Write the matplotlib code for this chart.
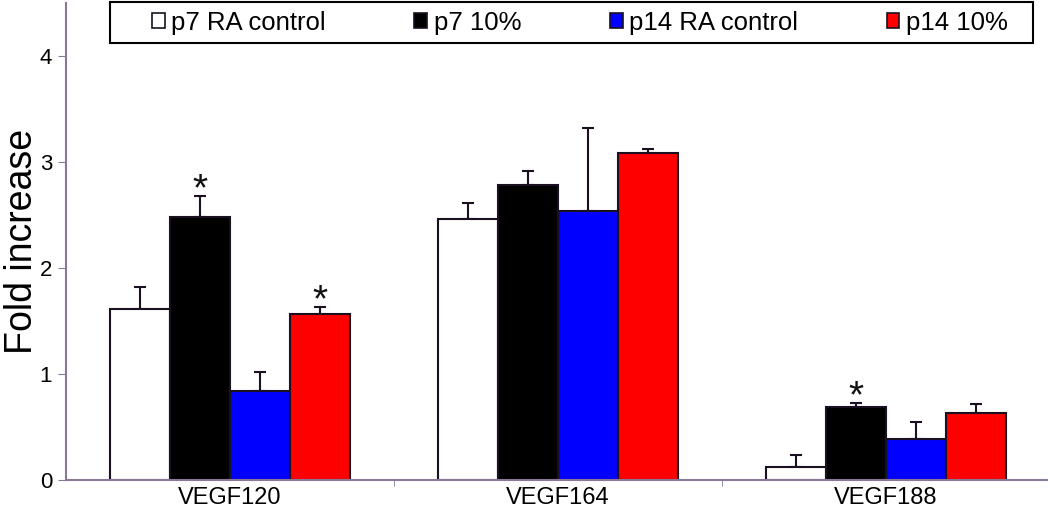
import numpy as np
import matplotlib
matplotlib.use('Agg')
import matplotlib.pyplot as plt
from matplotlib.patches import Patch, Rectangle

plt.rcParams['font.family'] = ['Liberation Sans', 'DejaVu Sans']

genes = ['VEGF120', 'VEGF164', 'VEGF188']
series = ['p7 RA control', 'p7 10%', 'p14 RA control', 'p14 10%']
colors = ['white', 'black', '#0000ff', '#ff0000']

# mean fold increase per series (rows) and gene (columns)
means = [
    [1.61, 2.46, 0.12],
    [2.48, 2.78, 0.69],
    [0.84, 2.54, 0.39],
    [1.57, 3.08, 0.63],
]
errs = [
    [0.21, 0.15, 0.12],
    [0.20, 0.13, 0.04],
    [0.18, 0.78, 0.16],
    [0.06, 0.04, 0.09],
]
# (series index, gene index) marked significant
stars = [(1, 0), (3, 0), (1, 2)]

axcol = '#8a7896'
edge = '#1a1020'

fig = plt.figure(figsize=(10.5, 5.13), dpi=100)
ax = fig.add_axes([0.0629, 0.0643, 0.934, 0.930])

x = np.arange(len(genes))
w = 0.183
for i in range(len(series)):
    pos = x + (i - 1.5) * w
    ax.bar(pos, means[i], w, color=colors[i], edgecolor=edge, linewidth=1.5, zorder=2)
    ax.errorbar(pos, means[i], yerr=[np.zeros(len(genes)), errs[i]], fmt='none',
                ecolor=edge, elinewidth=1.5, capsize=4, capthick=1.5, zorder=1)

for si, gi in stars:
    top = means[si][gi] + errs[si][gi]
    ax.text(x[gi] + (si - 1.5) * w, top - 0.04, '*', ha='center', va='baseline',
            fontsize=28, color='#111111')

ax.set_xlim(-0.5, 2.49)
ax.set_ylim(0, 4.5)
ax.set_yticks([0, 1, 2, 3, 4])
ax.set_xticks(x)
ax.set_xticklabels(genes, fontsize=17)
ax.set_xticks([0.5, 1.5], minor=True)
ax.tick_params(axis='x', which='major', length=0, pad=5)
ax.tick_params(axis='x', which='minor', length=4, color=axcol, direction='out')
ax.tick_params(axis='y', length=6, color=axcol, labelsize=16, pad=4)

for s in ['top', 'right']:
    ax.spines[s].set_visible(False)
for s in ['left', 'bottom']:
    ax.spines[s].set_color(axcol)
    ax.spines[s].set_linewidth(1.5)

ax.set_ylabel('Fold increase', fontsize=27)
ax.yaxis.set_label_coords(-0.027, 0.5)

# legend frame and entries
fig.patches.append(Rectangle((0.1048, 0.9162), 0.879, 0.0799, transform=fig.transFigure,
                             facecolor='white', edgecolor='black', linewidth=1.5, zorder=5))
handles = [Patch(facecolor=c, edgecolor=edge, linewidth=1.2) for c in colors]
leg = fig.legend(handles, series, ncol=4, loc='center',
                 bbox_to_anchor=(0.1448, 0.956, 0.815, 0.0), mode='expand',
                 bbox_transform=fig.transFigure, fontsize=18.5, frameon=False,
                 handlelength=0.5, handleheight=0.55, handletextpad=0.25,
                 borderpad=0, borderaxespad=0)
leg.set_zorder(6)

fig.savefig('out.png', dpi=100)
